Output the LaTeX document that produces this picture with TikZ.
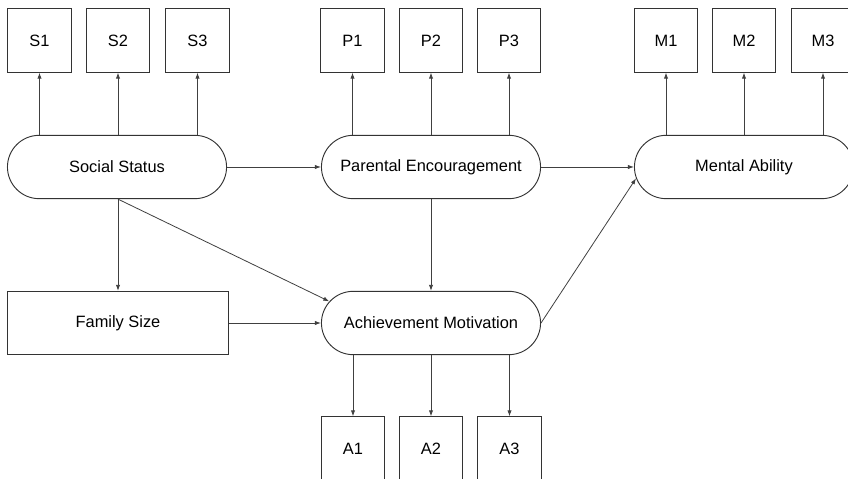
\documentclass[tikz,border=0pt]{standalone}
\usepackage{fontspec}
\setmainfont{Liberation Sans}
\usetikzlibrary{shapes, arrows.meta, positioning, calc}

\begin{document}
\begin{tikzpicture}[x=0.75pt, y=0.75pt,
    >={Latex[length=4.5pt,width=3.2pt]},
    link/.style={draw=black!75, line width=0.6pt},
    item/.style={draw=black!80, line width=0.7pt, rectangle,
      minimum width=47.5pt, minimum height=47.5pt,
      font=\fontsize{12.3}{14}\selectfont},
    latent/.style={draw=black!80, line width=0.7pt, rounded rectangle,
      minimum width=171pt, minimum height=47.5pt,
      font=\fontsize{12.3}{14}\selectfont}]

  \clip (0,0) rectangle (848,478);

  \path (117,311) node[latent] (ss) {Social Status}
        (431,311) node[latent] (pe) {Parental Encouragement}
        (744,311) node[latent] (ma) {Mental Ability}
        (118,155) node[item, minimum width=166pt] (fs) {Family Size}
        (431,155) node[latent] (am) {Achievement Motivation};

  % indicators above
  \foreach \name/\x/\src in {S1/39.5/ss, S2/118/ss, S3/197.5/ss,
                             P1/352.5/pe, P2/431/pe, P3/509/pe,
                             M1/666/ma, M2/744/ma, M3/823/ma}
  {
    \node[item] (\name) at (\x,437.5) {\name};
    \draw[link,->] (\name |- \src.north) -- (\name.south);
  }

  % indicators below
  \foreach \name/\x in {A1/353, A2/431, A3/509.5}
  {
    \node[item] (\name) at (\x,29.5) {\name};
    \draw[link,->] (\name |- am.south) -- (\name.north);
  }

  \coordinate (ssfoot) at (fs.north |- ss.south);

  \draw[link,->] (ss.east) -- (pe.west);
  \draw[link,->] (pe.east) -- (ma.west);
  \draw[link,->] (ssfoot) -- (fs.north);
  \draw[link,->] (ssfoot) -- (am.168);
  \draw[link,->] (fs.east) -- (am.west);
  \draw[link,->] (pe.south) -- (am.north);
  \draw[link,->] (am.east) -- (ma.186);

\end{tikzpicture}
\end{document}
